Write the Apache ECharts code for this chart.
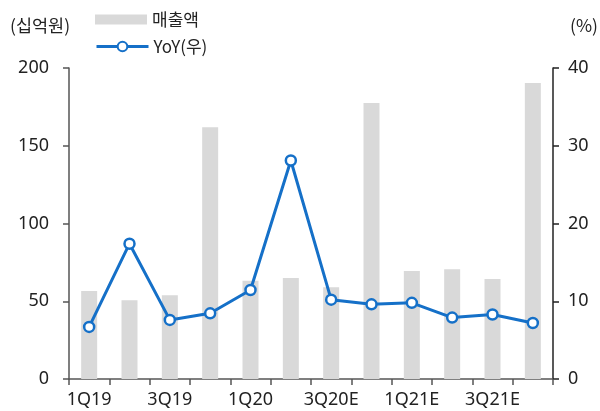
<!DOCTYPE html>
<html><head><meta charset="utf-8">
<script src="https://cdn.jsdelivr.net/npm/echarts@6/dist/echarts.min.js"></script>
<style>html,body{margin:0;padding:0;background:#fff}#c{width:600px;height:411px}</style>
</head><body><div id="c"></div>
<script>
var categories = ['1Q19','2Q19','3Q19','4Q19','1Q20','2Q20','3Q20E','4Q20E','1Q21E','2Q21E','3Q21E','4Q21E'];
var sales = [56.6, 50.6, 53.8, 161.9, 63.2, 65.0, 59.0, 177.5, 69.5, 70.5, 64.3, 190.3];
var yoy = [6.7, 17.4, 7.6, 8.45, 11.45, 28.1, 10.2, 9.6, 9.8, 7.9, 8.3, 7.2];
var leftTicks = {min: 0, max: 200, interval: 50};
var rightTicks = {min: 0, max: 40, interval: 10};

var FF = '"Noto Sans CJK KR", "Noto Sans", sans-serif';
var NF = '"Noto Sans", "Noto Sans CJK KR", sans-serif';
var chart = echarts.init(document.getElementById('c'), null, {renderer: 'canvas'});
chart.setOption({
  animation: false,
  textStyle: {fontFamily: FF},
  grid: {left: 69, right: 47, top: 68, bottom: 32},
  legend: [
    {data: [{name: '매출액', icon: 'rect'}], left: 95, top: 11, padding: 0, itemWidth: 52, itemHeight: 10, itemGap: 0,
     textStyle: {fontSize: 17, color: '#222', fontFamily: FF}},
    {data: [{name: 'YoY(우)', lineStyle: {width: 3, color: '#1570c8'}}], left: 95, top: 38, padding: 0, itemWidth: 52, itemHeight: 12, itemGap: 0,
     textStyle: {fontSize: 17, color: '#222', fontFamily: FF}}
  ],
  graphic: [
    {type: 'text', left: 10, top: 17, style: {text: '(십억원)', fontSize: 17.5, fill: '#222', fontFamily: FF}},
    {type: 'text', left: 570, top: 17, style: {text: '(%)', fontSize: 17.5, fill: '#222', fontFamily: FF}}
  ],
  xAxis: {
    type: 'category', data: categories, boundaryGap: true,
    axisLine: {lineStyle: {color: '#555', width: 1.5}},
    axisTick: {show: true, interval: 0, length: 6, lineStyle: {color: '#555', width: 1.5}},
    axisLabel: {interval: 1, fontSize: 18, color: '#222', margin: 12, fontFamily: NF}
  },
  yAxis: [
    {type: 'value', min: leftTicks.min, max: leftTicks.max, interval: leftTicks.interval,
     axisLine: {show: true, lineStyle: {color: '#555', width: 1.5}},
     axisTick: {show: true, length: 6, lineStyle: {color: '#555', width: 1.5}},
     splitLine: {show: false},
     axisLabel: {fontSize: 18, color: '#222', margin: 20, fontFamily: NF}},
    {type: 'value', min: rightTicks.min, max: rightTicks.max, interval: rightTicks.interval, position: 'right',
     axisLine: {show: true, lineStyle: {color: '#222', width: 1.5}},
     axisTick: {show: true, length: 6, lineStyle: {color: '#222', width: 1.5}},
     splitLine: {show: false},
     axisLabel: {fontSize: 18, color: '#222', margin: 15, fontFamily: NF}}
  ],
  series: [
    {name: '매출액', type: 'bar', data: sales, barWidth: 16, itemStyle: {color: '#d9d9d9'}},
    {name: 'YoY(우)', type: 'line', yAxisIndex: 1, data: yoy, symbol: 'circle', symbolSize: 10,
     lineStyle: {color: '#1570c8', width: 3},
     itemStyle: {color: '#fff', borderColor: '#1570c8', borderWidth: 2.5}}
  ]
});
</script></body></html>
